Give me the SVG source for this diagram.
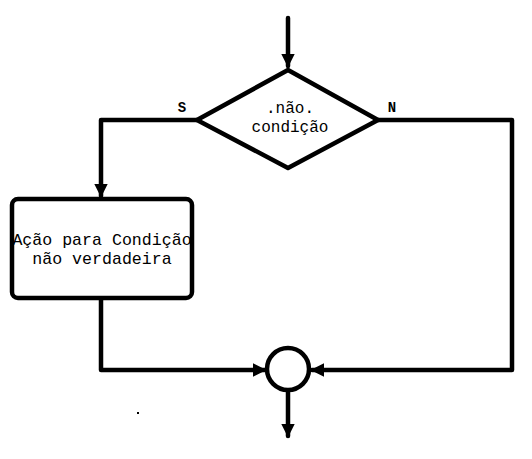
<svg xmlns="http://www.w3.org/2000/svg" width="532" height="459" viewBox="0 0 532 459">
<style>
.ln{fill:none;stroke:#000;stroke-width:4.5;stroke-linejoin:round;stroke-linecap:round}
.sh{fill:#fff;stroke:#000;stroke-width:4.5;stroke-linejoin:round}
.t{font-family:"Liberation Mono","DejaVu Sans Mono",monospace;font-size:16px;fill:#000;text-anchor:middle}
.lb{font-family:"Liberation Mono","DejaVu Sans Mono",monospace;font-size:14px;font-weight:bold;fill:#000;text-anchor:middle}
</style>
<defs>
<marker id="ah" viewBox="0 0 10 10" refX="9" refY="5" markerWidth="3" markerHeight="3" orient="auto" markerUnits="strokeWidth">
<path d="M0,0 L10,5 L0,10 Z" fill="#000"/>
</marker>
</defs>
<g id="connectors">
<path class="ln" d="M288,18 L288,66" marker-end="url(#ah)"/>
<path class="ln" d="M197,120 L101,120 L101,196" marker-end="url(#ah)"/>
<path class="ln" d="M378,120 L512,120 L512,370 L312,370" marker-end="url(#ah)"/>
<path class="ln" d="M101,298 L101,370 L265,370" marker-end="url(#ah)"/>
<path class="ln" d="M288,390 L288,436" marker-end="url(#ah)"/>
</g>
<g id="decision">
<polygon class="sh" points="288,70 378,120 288,168 197,120"/>
<text class="t" x="290" y="113">.não.</text>
<text class="t" x="290" y="132">condição</text>
</g>
<g id="label-s"><text class="lb" x="182" y="112">S</text></g>
<g id="label-n"><text class="lb" x="392" y="112">N</text></g>
<g id="action">
<rect class="sh" x="12" y="199" width="180" height="99" rx="6"/>
<text class="t" x="102" y="245" style="font-size:16.6px">Ação para Condição</text>
<text class="t" x="102" y="264" style="font-size:16.6px">não verdadeira</text>
</g>
<g id="junction">
<circle class="sh" cx="288" cy="369" r="21"/>
</g>
<g id="dot"><rect x="137" y="412" width="2" height="2" fill="#000"/></g>
</svg>
